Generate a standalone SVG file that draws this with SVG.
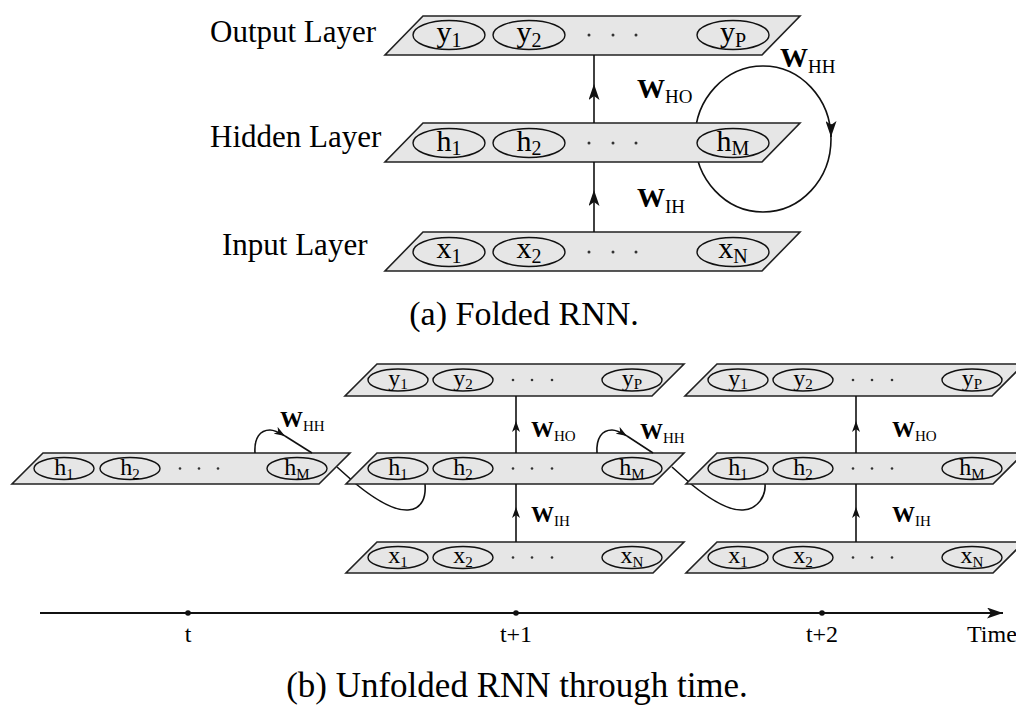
<svg xmlns="http://www.w3.org/2000/svg" width="1016" height="707" viewBox="0 0 1016 707">
<style>
.layer{fill:#e6e6e6;stroke:#222;stroke-width:1.6;stroke-linejoin:miter}
.node{fill:none;stroke:#111;stroke-width:1.4}
.dot{fill:#333}
.conn{fill:none;stroke:#111;stroke-width:1.6}
.t{font-family:"Liberation Serif","Times New Roman",serif;fill:#000}
.bigL{font-size:31px}
.cap{font-size:34px}
.n1{font-size:30px}
.s1{font-size:20px}
.n2{font-size:24px}
.s2{font-size:15px}
.w1{font-size:28px;font-weight:bold}
.ws1{font-size:19px;font-weight:normal}
.w2{font-size:23px;font-weight:bold}
.ws2{font-size:15px;font-weight:normal}
.tick{font-size:24px}
</style>
<defs>
<marker id="ahL" viewBox="0 0 16 11" refX="16" refY="5.5" markerWidth="16" markerHeight="11" orient="auto" markerUnits="userSpaceOnUse"><path d="M0,0 L16,5.5 L0,11 L4,5.5 Z" fill="#111"/></marker>
<marker id="ahS" viewBox="0 0 11 8" refX="11" refY="4" markerWidth="11" markerHeight="8" orient="auto" markerUnits="userSpaceOnUse"><path d="M0,0 L11,4 L0,8 L3,4 Z" fill="#111"/></marker>
</defs>

<!-- connectors drawn behind layers -->
<g id="connectors-back">
<ellipse class="conn" cx="763" cy="139" rx="68" ry="73"/>
<path class="conn" d="M337,467 L356,484 C372,497 392,511 408,510 C423,509 426,496 425,484"/>
<path class="conn" d="M672,467 L691,484 C707,497 727,511 743,510 C758,509 766,496 765,484"/>
</g>

<!-- (a) folded RNN -->
<text class="t bigL" x="210" y="42">Output Layer</text>
<text class="t bigL" x="210" y="147">Hidden Layer</text>
<text class="t bigL" x="222" y="255">Input Layer</text>

<g id="a-output">
<polygon class="layer" points="423,16 800,16 762,55 385,55"/>
<g id="a-y1"><ellipse class="node" cx="449" cy="35" rx="36" ry="14.5"/><text class="t n1" x="449" y="42" text-anchor="middle">y<tspan class="s1" dy="5">1</tspan></text></g>
<g id="a-y2"><ellipse class="node" cx="529" cy="35" rx="36" ry="14.5"/><text class="t n1" x="529" y="42" text-anchor="middle">y<tspan class="s1" dy="5">2</tspan></text></g>
<circle class="dot" cx="589" cy="35" r="1.5"/><circle class="dot" cx="613" cy="35" r="1.5"/><circle class="dot" cx="636" cy="35" r="1.5"/>
<g id="a-yP"><ellipse class="node" cx="733" cy="35" rx="36" ry="14.5"/><text class="t n1" x="733" y="42" text-anchor="middle">y<tspan class="s1" dy="5">P</tspan></text></g>
</g>

<g id="a-hidden">
<polygon class="layer" points="423,123 800,123 762,162 385,162"/>
<g id="a-h1"><ellipse class="node" cx="449" cy="143" rx="36" ry="14.5"/><text class="t n1" x="449" y="151" text-anchor="middle">h<tspan class="s1" dy="4">1</tspan></text></g>
<g id="a-h2"><ellipse class="node" cx="529" cy="143" rx="36" ry="14.5"/><text class="t n1" x="529" y="151" text-anchor="middle">h<tspan class="s1" dy="4">2</tspan></text></g>
<circle class="dot" cx="589" cy="143" r="1.5"/><circle class="dot" cx="613" cy="143" r="1.5"/><circle class="dot" cx="636" cy="143" r="1.5"/>
<g id="a-hM"><ellipse class="node" cx="733" cy="143" rx="36" ry="14.5"/><text class="t n1" x="733" y="151" text-anchor="middle">h<tspan class="s1" dy="4">M</tspan></text></g>
</g>

<g id="a-input">
<polygon class="layer" points="423,232 800,232 762,271 385,271"/>
<g id="a-x1"><ellipse class="node" cx="449" cy="252" rx="36" ry="14.5"/><text class="t n1" x="449" y="258" text-anchor="middle">x<tspan class="s1" dy="5">1</tspan></text></g>
<g id="a-x2"><ellipse class="node" cx="529" cy="252" rx="36" ry="14.5"/><text class="t n1" x="529" y="258" text-anchor="middle">x<tspan class="s1" dy="5">2</tspan></text></g>
<circle class="dot" cx="589" cy="252" r="1.5"/><circle class="dot" cx="613" cy="252" r="1.5"/><circle class="dot" cx="636" cy="252" r="1.5"/>
<g id="a-xN"><ellipse class="node" cx="733" cy="252" rx="36" ry="14.5"/><text class="t n1" x="733" y="258" text-anchor="middle">x<tspan class="s1" dy="5">N</tspan></text></g>
</g>

<!-- (b) unfolded RNN -->
<g id="b-t-hidden">
<polygon class="layer" points="43,453 350,453 319,484 12,484"/>
<g id="b0-h1"><ellipse class="node" cx="64" cy="468.5" rx="30" ry="11"/><text class="t n2" x="64" y="475" text-anchor="middle">h<tspan class="s2" dy="4">1</tspan></text></g>
<g id="b0-h2"><ellipse class="node" cx="130" cy="468.5" rx="30" ry="11"/><text class="t n2" x="130" y="475" text-anchor="middle">h<tspan class="s2" dy="4">2</tspan></text></g>
<circle class="dot" cx="180" cy="468.5" r="1.3"/><circle class="dot" cx="199" cy="468.5" r="1.3"/><circle class="dot" cx="218" cy="468.5" r="1.3"/>
<g id="b0-hM"><ellipse class="node" cx="297" cy="468.5" rx="30" ry="11"/><text class="t n2" x="297" y="475" text-anchor="middle">h<tspan class="s2" dy="4">M</tspan></text></g>
</g>

<g id="b-t1-output">
<polygon class="layer" points="377,364 684,364 652,396 345,396"/>
<g id="b1-y1"><ellipse class="node" cx="398" cy="380" rx="30" ry="11"/><text class="t n2" x="398" y="386" text-anchor="middle">y<tspan class="s2" dy="3">1</tspan></text></g>
<g id="b1-y2"><ellipse class="node" cx="463" cy="380" rx="30" ry="11"/><text class="t n2" x="463" y="386" text-anchor="middle">y<tspan class="s2" dy="3">2</tspan></text></g>
<circle class="dot" cx="513" cy="380" r="1.3"/><circle class="dot" cx="532" cy="380" r="1.3"/><circle class="dot" cx="552" cy="380" r="1.3"/>
<g id="b1-yP"><ellipse class="node" cx="632" cy="380" rx="30" ry="11"/><text class="t n2" x="632" y="386" text-anchor="middle">y<tspan class="s2" dy="3">P</tspan></text></g>
</g>
<g id="b-t1-hidden">
<polygon class="layer" points="377,453 684,453 653,484 346,484"/>
<g id="b1-h1"><ellipse class="node" cx="398" cy="468.5" rx="30" ry="11"/><text class="t n2" x="398" y="475" text-anchor="middle">h<tspan class="s2" dy="4">1</tspan></text></g>
<g id="b1-h2"><ellipse class="node" cx="463" cy="468.5" rx="30" ry="11"/><text class="t n2" x="463" y="475" text-anchor="middle">h<tspan class="s2" dy="4">2</tspan></text></g>
<circle class="dot" cx="513" cy="468.5" r="1.3"/><circle class="dot" cx="532" cy="468.5" r="1.3"/><circle class="dot" cx="552" cy="468.5" r="1.3"/>
<g id="b1-hM"><ellipse class="node" cx="632" cy="468.5" rx="30" ry="11"/><text class="t n2" x="632" y="475" text-anchor="middle">h<tspan class="s2" dy="4">M</tspan></text></g>
</g>
<g id="b-t1-input">
<polygon class="layer" points="377,542 684,542 653,573 346,573"/>
<g id="b1-x1"><ellipse class="node" cx="398" cy="557.5" rx="30" ry="11"/><text class="t n2" x="398" y="563" text-anchor="middle">x<tspan class="s2" dy="4">1</tspan></text></g>
<g id="b1-x2"><ellipse class="node" cx="463" cy="557.5" rx="30" ry="11"/><text class="t n2" x="463" y="563" text-anchor="middle">x<tspan class="s2" dy="4">2</tspan></text></g>
<circle class="dot" cx="513" cy="557.5" r="1.3"/><circle class="dot" cx="532" cy="557.5" r="1.3"/><circle class="dot" cx="552" cy="557.5" r="1.3"/>
<g id="b1-xN"><ellipse class="node" cx="632" cy="557.5" rx="30" ry="11"/><text class="t n2" x="632" y="563" text-anchor="middle">x<tspan class="s2" dy="4">N</tspan></text></g>
</g>

<g id="b-t2-output">
<polygon class="layer" points="717,364 1024,364 992,396 685,396"/>
<g id="b2-y1"><ellipse class="node" cx="738" cy="380" rx="30" ry="11"/><text class="t n2" x="738" y="386" text-anchor="middle">y<tspan class="s2" dy="3">1</tspan></text></g>
<g id="b2-y2"><ellipse class="node" cx="803" cy="380" rx="30" ry="11"/><text class="t n2" x="803" y="386" text-anchor="middle">y<tspan class="s2" dy="3">2</tspan></text></g>
<circle class="dot" cx="853" cy="380" r="1.3"/><circle class="dot" cx="872" cy="380" r="1.3"/><circle class="dot" cx="892" cy="380" r="1.3"/>
<g id="b2-yP"><ellipse class="node" cx="972" cy="380" rx="30" ry="11"/><text class="t n2" x="972" y="386" text-anchor="middle">y<tspan class="s2" dy="3">P</tspan></text></g>
</g>
<g id="b-t2-hidden">
<polygon class="layer" points="717,453 1024,453 993,484 686,484"/>
<g id="b2-h1"><ellipse class="node" cx="738" cy="468.5" rx="30" ry="11"/><text class="t n2" x="738" y="475" text-anchor="middle">h<tspan class="s2" dy="4">1</tspan></text></g>
<g id="b2-h2"><ellipse class="node" cx="803" cy="468.5" rx="30" ry="11"/><text class="t n2" x="803" y="475" text-anchor="middle">h<tspan class="s2" dy="4">2</tspan></text></g>
<circle class="dot" cx="853" cy="468.5" r="1.3"/><circle class="dot" cx="872" cy="468.5" r="1.3"/><circle class="dot" cx="892" cy="468.5" r="1.3"/>
<g id="b2-hM"><ellipse class="node" cx="972" cy="468.5" rx="30" ry="11"/><text class="t n2" x="972" y="475" text-anchor="middle">h<tspan class="s2" dy="4">M</tspan></text></g>
</g>
<g id="b-t2-input">
<polygon class="layer" points="717,542 1024,542 993,573 686,573"/>
<g id="b2-x1"><ellipse class="node" cx="738" cy="557.5" rx="30" ry="11"/><text class="t n2" x="738" y="563" text-anchor="middle">x<tspan class="s2" dy="4">1</tspan></text></g>
<g id="b2-x2"><ellipse class="node" cx="803" cy="557.5" rx="30" ry="11"/><text class="t n2" x="803" y="563" text-anchor="middle">x<tspan class="s2" dy="4">2</tspan></text></g>
<circle class="dot" cx="853" cy="557.5" r="1.3"/><circle class="dot" cx="872" cy="557.5" r="1.3"/><circle class="dot" cx="892" cy="557.5" r="1.3"/>
<g id="b2-xN"><ellipse class="node" cx="972" cy="557.5" rx="30" ry="11"/><text class="t n2" x="972" y="563" text-anchor="middle">x<tspan class="s2" dy="4">N</tspan></text></g>
</g>

<!-- connectors drawn in front -->
<g id="connectors">
<path class="conn" d="M594,123 L594,84" marker-end="url(#ahL)"/>
<path class="conn" d="M594,84 L594,55"/>
<path class="conn" d="M594,232 L594,190" marker-end="url(#ahL)"/>
<path class="conn" d="M594,190 L594,162"/>
<path class="conn" d="M831,124 L831,137" marker-end="url(#ahL)"/>

<path class="conn" d="M516,453 L516,421" marker-end="url(#ahS)"/>
<path class="conn" d="M516,421 L516,396"/>
<path class="conn" d="M516,542 L516,507" marker-end="url(#ahS)"/>
<path class="conn" d="M516,507 L516,484"/>
<path class="conn" d="M856,453 L856,421" marker-end="url(#ahS)"/>
<path class="conn" d="M856,421 L856,396"/>
<path class="conn" d="M856,542 L856,507" marker-end="url(#ahS)"/>
<path class="conn" d="M856,507 L856,484"/>

<path class="conn" d="M255,453 C254,438 260,430 270,430 C275,430 280,433 285,436" marker-end="url(#ahS)"/>
<path class="conn" d="M285,436 L312,453"/>
<path class="conn" d="M597,453 C596,438 602,430 612,430 C617,430 622,433 627,436" marker-end="url(#ahS)"/>
<path class="conn" d="M627,436 L653,453"/>

<path class="conn" d="M40,613 L1003,613" style="stroke-width:1.9" marker-end="url(#ahL)"/>
<circle cx="188" cy="613" r="2.8" fill="#111"/>
<circle cx="516" cy="613" r="2.8" fill="#111"/>
<circle cx="822" cy="613" r="2.8" fill="#111"/>
</g>

<!-- weight labels -->
<text class="t w1" x="637" y="98">W<tspan class="ws1" dy="5">HO</tspan></text>
<text class="t w1" x="780" y="67">W<tspan class="ws1" dy="6">HH</tspan></text>
<text class="t w1" x="637" y="207">W<tspan class="ws1" dy="6">IH</tspan></text>

<text class="t w2" x="280" y="427">W<tspan class="ws2" dy="4">HH</tspan></text>
<text class="t w2" x="531" y="437">W<tspan class="ws2" dy="4">HO</tspan></text>
<text class="t w2" x="640" y="439">W<tspan class="ws2" dy="4">HH</tspan></text>
<text class="t w2" x="531" y="522">W<tspan class="ws2" dy="4">IH</tspan></text>
<text class="t w2" x="892" y="437">W<tspan class="ws2" dy="4">HO</tspan></text>
<text class="t w2" x="892" y="522">W<tspan class="ws2" dy="4">IH</tspan></text>

<!-- time labels -->
<text class="t tick" x="188" y="642" text-anchor="middle">t</text>
<text class="t tick" x="516" y="642" text-anchor="middle">t+1</text>
<text class="t tick" x="822" y="642" text-anchor="middle">t+2</text>
<text class="t tick" x="967" y="642">Time</text>

<!-- captions -->
<text class="t cap" x="524" y="325" text-anchor="middle">(a) Folded RNN.</text>
<text class="t cap" x="517" y="697" text-anchor="middle" style="font-size:35px">(b) Unfolded RNN through time.</text>
</svg>
